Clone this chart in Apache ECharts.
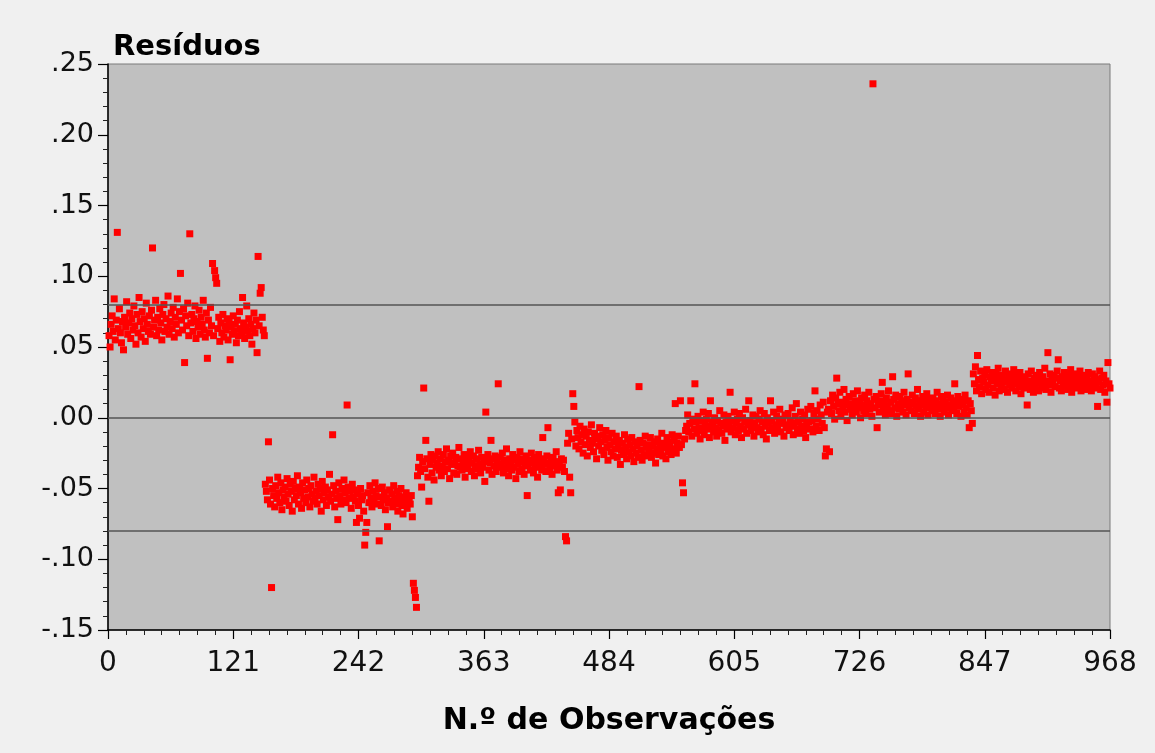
<!DOCTYPE html>
<html>
<head>
<meta charset="utf-8">
<script src="https://cdn.jsdelivr.net/npm/echarts@6/dist/echarts.min.js"></script>
<style>
html,body{margin:0;padding:0;background:#f0f0f0;}
#chart{width:1155px;height:753px;}
</style>
</head>
<body>
<div id="chart"></div>
<script>
// Residuals by observation number, one array per visible regime (obs 1..968 in order)
const regime1 = [ // obs 1-151
.058,.050,.066,.072,.061,.084,.055,.069,.131,.063,
.077,.060,.053,.068,.048,.071,.064,.082,.059,.067,
.074,.056,.070,.062,.079,.065,.052,.073,.060,.085,
.068,.057,.075,.063,.070,.054,.081,.066,.061,.072,
.059,.076,.120,.064,.069,.083,.058,.071,.062,.077,
.067,.055,.073,.080,.061,.070,.064,.086,.059,.068,
.074,.063,.078,.057,.071,.066,.084,.060,.075,.102,
.069,.062,.077,.039,.072,.065,.081,.058,.130,.067,
.073,.061,.070,.079,.056,.068,.064,.076,.059,.071,
.066,.083,.062,.057,.074,.042,.069,.060,.078,.065,
.109,.058,.104,.099,.095,.063,.071,.054,.067,.060,
.073,.057,.065,.062,.070,.055,.068,.041,.064,.059,
.072,.061,.066,.053,.069,.058,.075,.063,.060,.085,
.067,.056,.064,.079,.061,.070,.058,.066,.052,.063,
.074,.060,.069,.046,.114,.065,.088,.092,.071,.062,
.058];
const regime2 = [ // obs 152-298
-.047,-.052,-.058,-.017,-.044,-.061,-.120,-.050,-.055,-.063,
-.048,-.057,-.042,-.053,-.060,-.046,-.065,-.051,-.056,-.049,
-.059,-.043,-.054,-.062,-.047,-.052,-.066,-.045,-.058,-.050,
-.055,-.041,-.061,-.049,-.053,-.064,-.046,-.057,-.051,-.060,
-.044,-.056,-.050,-.063,-.048,-.054,-.059,-.042,-.057,-.052,
-.061,-.047,-.055,-.050,-.066,-.045,-.058,-.053,-.049,-.062,
-.051,-.056,-.040,-.059,-.054,-.012,-.048,-.063,-.052,-.057,
-.072,-.046,-.055,-.061,-.050,-.058,-.044,-.053,-.060,.009,
-.049,-.057,-.052,-.064,-.047,-.056,-.051,-.059,-.074,-.054,
-.062,-.071,-.050,-.058,-.055,-.066,-.090,-.081,-.074,-.053,
-.060,-.048,-.057,-.063,-.052,-.059,-.046,-.055,-.061,-.050,
-.087,-.056,-.062,-.049,-.058,-.053,-.065,-.057,-.077,-.060,
-.051,-.059,-.054,-.063,-.048,-.057,-.061,-.052,-.066,-.055,
-.058,-.050,-.062,-.068,-.056,-.060,-.053,-.064,-.057,-.059,
-.061,-.055,-.070,-.117,-.122,-.127,-.134];
const regime3 = [ // obs 299-443
-.041,-.035,-.028,-.038,-.049,-.031,.021,-.036,-.016,-.029,
-.042,-.059,-.033,-.026,-.039,-.030,-.044,-.027,-.035,-.032,
-.024,-.037,-.029,-.041,-.034,-.026,-.038,-.031,-.022,-.036,
-.030,-.043,-.027,-.033,-.025,-.039,-.032,-.028,-.040,-.034,
-.021,-.035,-.029,-.037,-.031,-.026,-.042,-.033,-.028,-.036,
-.030,-.024,-.038,-.032,-.027,-.041,-.034,-.029,-.036,-.023,
-.033,-.039,-.028,-.035,-.031,-.045,.004,-.030,-.026,-.037,
-.032,-.016,-.040,-.029,-.034,-.027,-.038,-.031,.024,-.035,
-.028,-.033,-.025,-.039,-.030,-.036,-.022,-.034,-.041,-.029,
-.032,-.037,-.026,-.035,-.030,-.043,-.028,-.033,-.038,-.024,
-.031,-.036,-.029,-.040,-.033,-.027,-.055,-.034,-.030,-.037,
-.025,-.032,-.039,-.028,-.035,-.031,-.042,-.026,-.034,-.030,
-.037,-.014,-.029,-.033,-.038,-.027,-.007,-.032,-.036,-.030,
-.040,-.028,-.034,-.031,-.024,-.037,-.053,-.033,-.051,-.029,
-.035,-.030,-.038,-.084,-.087];
const regime4 = [ // obs 444-558
-.018,-.011,-.042,-.053,-.015,.017,.008,-.003,-.020,-.009,
-.014,-.022,-.006,-.017,-.012,-.025,-.008,-.019,-.013,-.027,
-.010,-.016,-.021,-.005,-.018,-.024,-.011,-.015,-.029,-.013,
-.020,-.007,-.017,-.023,-.012,-.026,-.016,-.009,-.021,-.030,
-.014,-.019,-.024,-.011,-.027,-.017,-.022,-.013,-.028,-.020,
-.016,-.033,-.023,-.018,-.026,-.012,-.021,-.029,-.015,-.024,
-.019,-.027,-.014,-.022,-.031,-.017,-.025,-.020,-.028,.022,
-.016,-.023,-.030,-.018,-.026,-.013,-.021,-.027,-.019,-.024,
-.014,-.028,-.020,-.025,-.017,-.032,-.022,-.015,-.026,-.019,
-.023,-.011,-.027,-.018,-.021,-.029,-.014,-.024,-.017,-.020,
-.026,-.012,-.022,-.016,.010,-.025,-.018,-.013,-.021,.012,
-.019,-.046,-.053,-.015,-.009];
const regime5 = [ // obs 559-695
-.006,.002,-.010,-.004,.012,-.013,-.001,-.008,.024,-.003,
-.011,.001,-.007,-.015,-.002,-.009,.004,-.012,-.005,-.001,
-.008,.003,-.014,.012,-.006,-.003,-.010,.000,-.007,-.013,
-.002,-.009,.005,-.004,-.011,-.006,.002,-.016,-.003,-.008,
.001,-.005,.018,-.010,-.002,-.007,.004,-.012,-.004,-.001,
-.009,.003,-.006,-.014,.000,-.008,-.003,.006,-.011,-.005,
.012,-.002,-.009,-.006,.002,-.013,-.004,.001,-.007,-.010,
-.001,.005,-.008,-.003,-.012,.003,-.006,-.015,.000,-.004,
-.009,.012,-.002,-.007,.004,-.011,-.005,.001,-.008,-.003,
.006,-.010,-.004,-.001,-.013,.002,-.007,-.005,.003,-.009,
-.002,-.006,.007,-.012,-.004,.001,.010,-.008,-.003,-.011,
.004,-.006,-.001,-.009,.002,-.014,-.005,.006,-.003,-.008,
.008,-.002,-.010,.003,.019,-.006,.005,-.001,-.009,.009,
.002,-.004,.011,-.007,-.027,-.022,.004];
const regime6 = [ // obs 696-835
.006,-.024,.012,.003,.016,.008,-.001,.014,.028,.010,
.005,.018,.001,.011,.007,.020,.004,.013,-.002,.009,
.015,.006,.010,.002,.017,.008,.012,.004,.019,.007,
.011,.000,.014,.009,.005,.016,.003,.012,.008,.018,
.006,.010,.001,.236,.013,.007,.015,-.007,.009,.004,
.012,.017,.025,.006,.010,.002,.014,.008,.019,.005,
.011,.003,.029,.013,.007,.016,.001,.010,.006,.015,
.008,.012,.004,.018,.009,.002,.013,.031,.007,.011,
.005,.016,.010,.003,.014,.008,.020,.006,.012,.001,
.009,.015,.004,.011,.007,.017,.002,.013,.008,.010,
.005,.014,.009,.003,.012,.018,.006,.010,.001,.015,
.008,.013,.004,.011,.007,.016,.002,.009,.014,.005,
.010,.006,.024,.012,.003,.015,.008,.011,.001,.013,
.009,.004,.016,.007,.002,.012,-.007,.010,.005,-.004];
const regime7 = [ // obs 836-968
.031,.024,.036,.019,.044,.027,.022,.033,.017,.028,
.025,.030,.020,.034,.023,.018,.029,.026,.032,.021,
.027,.016,.031,.024,.035,.019,.028,.022,.030,.025,
.020,.033,.026,.018,.029,.023,.031,.021,.027,.034,
.024,.019,.030,.026,.022,.032,.017,.028,.025,.021,
.029,.023,.009,.031,.026,.020,.033,.024,.018,.028,
.022,.030,.025,.019,.032,.027,.021,.029,.024,.035,
.020,.026,.046,.023,.031,.018,.027,.024,.030,.022,
.028,.033,.041,.021,.026,.019,.029,.025,.032,.023,
.027,.020,.030,.024,.034,.018,.028,.022,.031,.026,
.021,.029,.024,.033,.019,.027,.023,.030,.025,.020,
.028,.032,.022,.026,.019,.031,.024,.029,.021,.027,
.008,.025,.033,.020,.028,.023,.030,.018,.026,.011,
.039,.024,.021];

const limiteSuperior = 0.082;
const linhaZero = 0.0;
const limiteInferior = -0.0835;

const xTickLabels = ['0','121','242','363','484','605','726','847','968'];
const yTickLabels = ['-.15','-.10','-.05','.00','.05','.10','.15','.20','.25'];

const residuos = [].concat(regime1, regime2, regime3, regime4, regime5, regime6, regime7);
const pontos = residuos.map((v, i) => [i + 1, v]);

const FONT = 'DejaVu Sans';
const chart = echarts.init(document.getElementById('chart'), null, {renderer: 'canvas'});
chart.setOption({
  animation: false,
  backgroundColor: '#f0f0f0',
  title: {
    text: 'Resíduos',
    left: 108, top: 28,
    textStyle: {fontFamily: FONT, fontSize: 29, fontWeight: 'bold', color: '#000'}
  },
  grid: {
    left: 108, right: 45, top: 64, bottom: 123,
    show: true, backgroundColor: '#c0c0c0', borderColor: '#7a7a7a', borderWidth: 1
  },
  xAxis: {
    type: 'value', min: 0, max: 968, interval: 121,
    name: 'N.º de Observações', nameLocation: 'middle', nameGap: 76,
    nameTextStyle: {fontFamily: FONT, fontSize: 30, fontWeight: 'bold', color: '#000'},
    axisLine: {show: true, onZero: false, lineStyle: {color: '#000', width: 1.5}},
    axisTick: {show: true, length: 9, lineStyle: {color: '#000', width: 1.2}},
    minorTick: {show: true, splitNumber: 7, length: 5, lineStyle: {color: '#222', width: 1}},
    axisLabel: {
      fontFamily: FONT, fontSize: 28, color: '#111', margin: 20,
      formatter: v => xTickLabels[Math.round(v / 121)]
    },
    splitLine: {show: false}
  },
  yAxis: {
    type: 'value', min: -0.15, max: 0.25, interval: 0.05,
    axisLine: {show: true, onZero: false, lineStyle: {color: '#000', width: 1.5}},
    axisTick: {show: true, length: 10, lineStyle: {color: '#000', width: 1.2}},
    minorTick: {show: true, splitNumber: 5, length: 5, lineStyle: {color: '#222', width: 1}},
    axisLabel: {
      fontFamily: FONT, fontSize: 27, color: '#111', margin: 14,
      formatter: v => yTickLabels[Math.round((v + 0.15) / 0.05)]
    },
    splitLine: {show: false}
  },
  series: [{
    type: 'scatter',
    data: pontos,
    symbol: 'rect',
    symbolSize: 7,
    itemStyle: {color: '#ff0000', opacity: 1},
    markLine: {
      silent: true, symbol: 'none',
      label: {show: false},
      lineStyle: {color: '#555', width: 1.5, type: 'solid'},
      data: [{yAxis: limiteSuperior}, {yAxis: linhaZero}, {yAxis: limiteInferior}]
    },
    z: 3
  }]
});
</script>
</body>
</html>
